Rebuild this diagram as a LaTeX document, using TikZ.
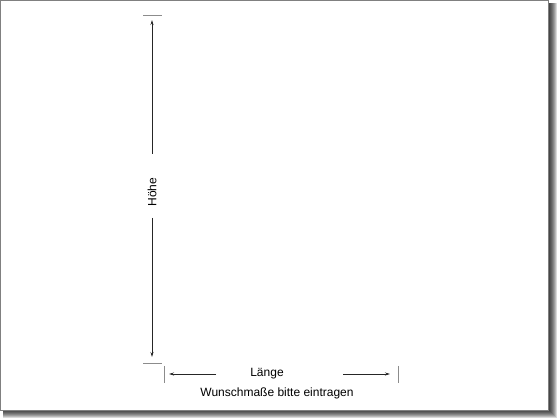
\documentclass[tikz,border=0pt]{standalone}
\usepackage{fontspec}
\setmainfont{Liberation Sans}
\usetikzlibrary{arrows.meta}
\tikzstyle{tick}=[draw=black!45, line width=0.8pt]
\tikzstyle{dim}=[draw=black!85, line width=0.8pt, -{Stealth[length=5pt,width=3pt]}]
\tikzstyle{label}=[font=\fontsize{12}{14}\selectfont, inner sep=0pt]

\begin{document}
\begin{tikzpicture}[x=1pt,y=1pt]
		\useasboundingbox (0,0) rectangle (560,420);
		% shadow
		\foreach \i in {1,...,8}
			\fill[black, opacity=0.15] (3,9.5-\i) rectangle (548.5+\i,417);
		% panel
		\draw[fill=white, draw=black!50, line width=1pt] (0.5,9.5) rectangle (548.5,419.5);
		% height
		\draw[tick] (143,405) -- (162,405);
		\draw[tick] (143,57) -- (162,57);
		\node[label, rotate=90] (hoehe) at (152,228) {Höhe};
		\coordinate (htop) at (152,400);
		\coordinate (hbot) at (152,63);
		\coordinate (hup) at (152,266);
		\coordinate (hdown) at (152,202);
		\draw[dim] (hup) -- (htop);
		\draw[dim] (hdown) -- (hbot);
		% length
		\draw[tick] (164,54) -- (164,37);
		\draw[tick] (398,54) -- (398,37);
		\node[label] (laenge) at (267,46) {Länge};
		\node[label] (hint) at (277,27) {Wunschmaße bitte eintragen};
		\coordinate (lleft) at (169,46);
		\coordinate (lright) at (390,46);
		\coordinate (la) at (216,46);
		\coordinate (lb) at (343,46);
		\draw[dim] (la) -- (lleft);
		\draw[dim] (lb) -- (lright);
	\end{tikzpicture}
\end{document}
